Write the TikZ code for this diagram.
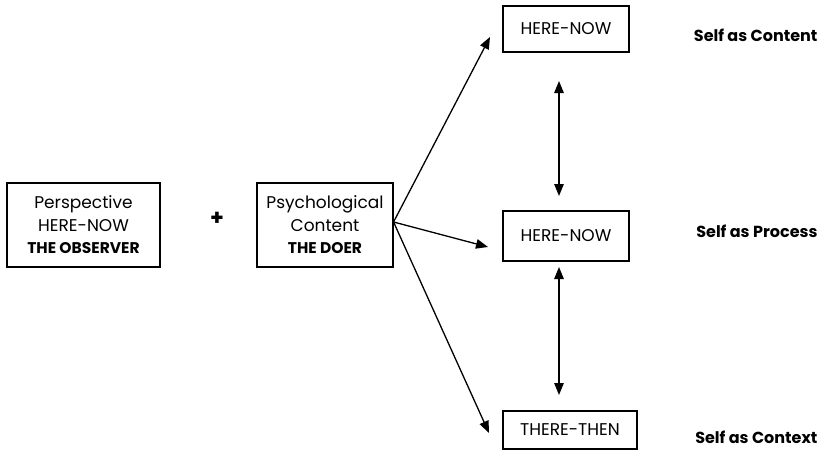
\documentclass[tikz,border=0pt]{standalone}
\usepackage{fontspec}
\setmainfont{Poppins}
\usetikzlibrary{arrows.meta}
\newcommand{\boldline}[1]{{\bfseries\fontsize{15.5}{22.5}\selectfont #1}}
\begin{document}
\begin{tikzpicture}[x=1pt,y=-1pt,
  box/.style={draw,line width=1.1pt,inner sep=0pt,align=center,font=\fontsize{17}{22.5}\selectfont},
  arr/.style={line width=1.3pt,-{Triangle[length=12pt,width=9.5pt]}},
  darr/.style={line width=1.3pt,{Triangle[length=12pt,width=9.5pt]}-{Triangle[length=12pt,width=9.5pt]}},
  lbl/.style={font=\bfseries\fontsize{16}{18}\selectfont,anchor=east}]
\useasboundingbox (0,0) rectangle (827,455);
\node[box,minimum width=153pt,minimum height=84pt] (obs) at (83.5,225) {Perspective\\HERE-NOW\\\boldline{THE OBSERVER}};
\node[font=\bfseries\fontsize{22}{22}\selectfont] (plus) at (217,219) {+};
\node[box,minimum width=136pt,minimum height=84pt] (doer) at (325,225) {Psychological\\Content\\\boldline{THE DOER}};
\node[box,minimum width=126pt,minimum height=46pt] (top) at (566,29) {HERE-NOW};
\node[box,minimum width=126pt,minimum height=50pt] (mid) at (566,236) {HERE-NOW};
\node[box,minimum width=134pt,minimum height=38pt] (bot) at (570,430) {THERE-THEN};
\node[lbl] (l1) at (821,35) {Self as Content};
\node[lbl] (l2) at (821,231) {Self as Process};
\node[lbl] (l3) at (821,437) {Self as Context};
\coordinate (src) at ([yshift=3pt]doer.east);
\coordinate (e1) at (490,37);
\coordinate (e2) at (488,247);
\coordinate (e3) at (489,433);
\draw[arr] (src) -- (e1);
\draw[arr] (src) -- (e2);
\draw[arr] (src) -- (e3);
\coordinate (v1a) at (559,81);
\coordinate (v1b) at (559,196);
\coordinate (v2a) at (559,267);
\coordinate (v2b) at (559,395);
\draw[darr] (v1a) -- (v1b);
\draw[darr] (v2a) -- (v2b);
\end{tikzpicture}
\end{document}
